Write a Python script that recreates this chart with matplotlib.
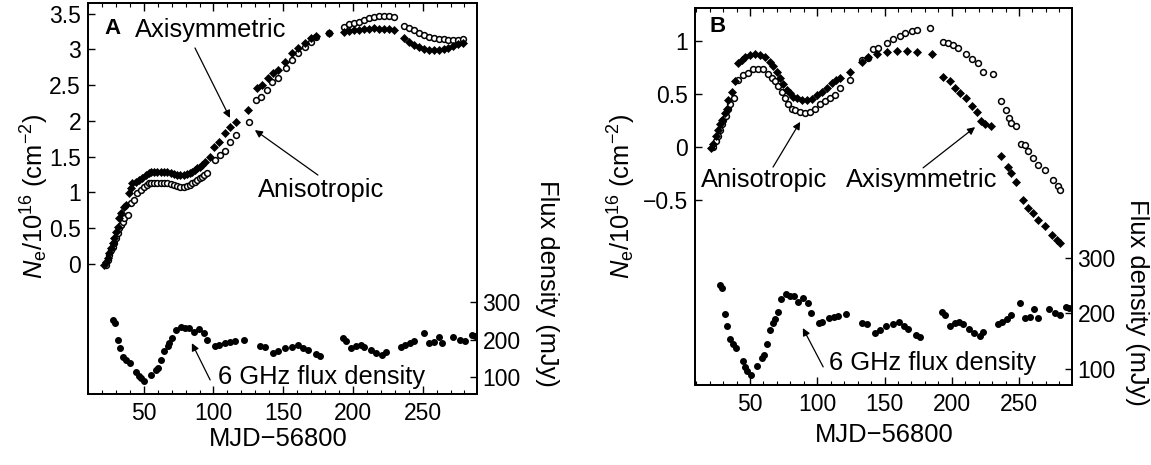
import matplotlib
matplotlib.use('Agg')
import matplotlib.pyplot as plt

plt.rcParams['font.family'] = ['Liberation Sans', 'DejaVu Sans']
plt.rcParams['mathtext.fontset'] = 'custom'
plt.rcParams['mathtext.rm'] = 'Liberation Sans'
plt.rcParams['mathtext.it'] = 'Liberation Sans:italic'
plt.rcParams['mathtext.bf'] = 'Liberation Sans:bold'

# ---------------- data: panel A ----------------
a_aniso_x = [23.0, 24.2, 25.3, 26.5, 27.7, 28.9, 30.1, 31.3, 32.5, 33.6, 34.8, 36.0, 38.4, 40.7,
             43.1, 45.5, 47.9, 50.2, 52.0, 53.8, 55.5, 57.3, 59.7, 62.1, 64.5, 66.8, 69.2,
             71.6, 74.0, 76.3, 78.7, 81.1, 82.8, 84.6, 86.4, 88.2, 90.0, 91.7, 93.5, 95.3,
             101.2, 104.8, 108.3, 112.1, 116.1, 125.2, 130.4, 134.1, 138.2, 141.7,
             146.5, 151.7, 156.0, 160.7, 165.4, 170.2, 173.7, 183.2, 193.9, 197.5, 201.0,
             204.5, 208.1, 211.6, 215.2, 218.7, 222.3, 225.8, 229.4, 236.5, 240.1, 243.7,
             247.2, 250.8, 254.3, 257.9, 261.5, 265.0, 268.5, 272.1, 275.6, 279.2]
a_aniso_y = [-0.01, 0.06, 0.13, 0.20, 0.24, 0.29, 0.36, 0.43, 0.50, 0.54, 0.59, 0.64, 0.69, 0.85,
             0.90, 0.99, 1.03, 1.08, 1.11, 1.13, 1.13, 1.13, 1.13, 1.13, 1.13, 1.13, 1.12,
             1.10, 1.09, 1.08, 1.08, 1.09, 1.11, 1.13, 1.15, 1.17, 1.20, 1.22, 1.25, 1.27,
             1.45, 1.52, 1.58, 1.71, 1.80, 1.98, 2.29, 2.34, 2.43, 2.55,
             2.60, 2.74, 2.85, 2.95, 3.04, 3.11, 3.18, 3.23, 3.32, 3.35, 3.37,
             3.39, 3.41, 3.44, 3.46, 3.47, 3.47, 3.47, 3.46, 3.33, 3.30, 3.27,
             3.23, 3.20, 3.18, 3.16, 3.15, 3.14, 3.13, 3.13, 3.13, 3.14]
a_axi_x = [21.8, 23.0, 24.2, 25.3, 26.5, 27.7, 28.9, 30.1, 31.3, 32.5, 33.6, 36.0, 37.2, 39.6,
           40.7, 41.9, 44.3, 46.7, 49.0, 51.4, 53.8, 55.5, 57.3, 59.7, 62.1, 64.5, 66.8, 69.2,
           71.6, 74.0, 76.3, 78.7, 81.1, 82.8, 84.6, 86.4, 88.2, 90.0, 91.7, 94.1, 97.6,
           100.2, 103.8, 108.5, 112.1, 116.1, 124.7, 131.1, 134.6, 139.4, 142.9, 146.5,
           151.2, 156.0, 160.7, 165.4, 170.2, 173.7, 183.2, 193.9, 197.5, 201.0, 204.5,
           208.1, 211.6, 215.2, 218.7, 222.3, 225.8, 229.4, 236.5, 240.1, 243.7, 247.2,
           250.8, 254.3, 257.9, 261.5, 265.0, 268.5, 272.1, 275.6, 279.2]
a_axi_y = [-0.01, 0.03, 0.08, 0.15, 0.22, 0.29, 0.36, 0.45, 0.52, 0.64, 0.71, 0.80, 0.83, 0.99,
           1.06, 1.13, 1.15, 1.18, 1.20, 1.24, 1.27, 1.28, 1.29, 1.29, 1.29, 1.29, 1.28, 1.27,
           1.26, 1.25, 1.24, 1.25, 1.26, 1.27, 1.29, 1.31, 1.34, 1.36, 1.38, 1.43, 1.50,
           1.64, 1.71, 1.83, 1.92, 1.99, 2.15, 2.46, 2.50, 2.60, 2.67, 2.71,
           2.83, 2.95, 3.02, 3.09, 3.16, 3.19, 3.23, 3.25, 3.26, 3.27, 3.27,
           3.28, 3.29, 3.30, 3.29, 3.28, 3.28, 3.27, 3.16, 3.11, 3.06, 3.03,
           3.00, 2.99, 2.99, 2.99, 3.00, 3.02, 3.05, 3.07, 3.09]

# ---------------- data: panel B ----------------
b_aniso_x = [22.7, 24.5, 25.9, 27.7, 28.9, 30.1, 31.9, 33.9, 35.1, 38.3, 41.3, 45.0, 48.7, 52.4,
             56.2, 59.9, 63.6, 66.1, 68.5, 71.0, 73.5, 76.0, 78.4, 80.9, 83.4, 87.1, 90.8,
             94.5, 98.2, 102.0, 105.7, 109.4, 113.1, 116.8, 124.3, 133.0, 137.9, 141.6, 145.3,
             151.5, 156.4, 161.4, 165.1, 170.1, 173.8, 183.7, 193.6, 197.3, 201.0, 204.7,
             210.9, 215.4, 219.5, 223.3, 230.3, 236.9, 240.7, 242.6, 244.4, 248.1, 251.8,
             254.3, 256.8, 260.5, 264.2, 269.3, 275.5, 279.2, 280.4]
b_aniso_y = [0.00, 0.05, 0.10, 0.16, 0.21, 0.25, 0.29, 0.36, 0.40, 0.46, 0.63, 0.68, 0.70, 0.73,
             0.73, 0.73, 0.69, 0.65, 0.62, 0.57, 0.52, 0.46, 0.40, 0.36, 0.35, 0.33, 0.32,
             0.33, 0.36, 0.40, 0.43, 0.46, 0.49, 0.55, 0.63, 0.82, 0.84, 0.92, 0.93,
             0.98, 1.02, 1.05, 1.07, 1.09, 1.10, 1.12, 0.99, 0.98, 0.96, 0.93,
             0.88, 0.83, 0.79, 0.71, 0.69, 0.43, 0.35, 0.27, 0.22, 0.20, 0.03,
             0.02, -0.04, -0.11, -0.17, -0.22, -0.31, -0.37, -0.41]
b_axi_x = [21.0, 22.7, 24.5, 26.4, 27.7, 28.9, 31.4, 32.6, 33.9, 36.3, 38.8, 41.3, 43.8, 46.2,
           50.0, 53.7, 57.4, 61.1, 64.8, 67.3, 69.8, 72.3, 74.7, 77.2, 79.7, 82.2, 84.6,
           88.3, 92.1, 95.8, 99.5, 103.2, 106.9, 110.6, 114.3, 116.8, 124.3, 133.0, 137.9,
           144.1, 151.5, 159.0, 166.4, 173.8, 185.0, 193.6, 198.5, 202.3, 206.0, 210.9,
           214.7, 218.4, 222.1, 224.5, 229.5, 236.9, 241.8, 244.4, 248.1, 253.0, 256.8,
           260.5, 264.2, 269.3, 274.3, 278.0, 280.4]
b_axi_y = [-0.01, 0.03, 0.10, 0.16, 0.21, 0.25, 0.32, 0.36, 0.44, 0.52, 0.62, 0.79, 0.82, 0.85,
           0.87, 0.88, 0.87, 0.85, 0.80, 0.76, 0.71, 0.65, 0.59, 0.54, 0.51, 0.47, 0.46,
           0.44, 0.44, 0.45, 0.49, 0.52, 0.55, 0.60, 0.63, 0.65, 0.71, 0.80, 0.85,
           0.88, 0.89, 0.90, 0.90, 0.89, 0.88, 0.66, 0.62, 0.55, 0.51, 0.46,
           0.38, 0.33, 0.24, 0.21, 0.20, -0.09, -0.19, -0.25, -0.33, -0.50, -0.58,
           -0.63, -0.69, -0.75, -0.83, -0.88, -0.91]

# ---------------- data: 6 GHz flux density (mJy) ----------------
flux_x = [27.9, 29.2, 31.5, 32.7, 35.0, 37.4, 39.8, 44.5, 46.3, 48.1, 50.5, 55.2, 58.7, 60.4,
          62.3, 64.7, 67.3, 68.3, 70.6, 72.9, 76.5, 79.7, 82.5, 86.0, 89.6, 93.2, 95.5, 101.4,
          103.8, 108.5, 112.1, 115.6, 121.6, 133.4, 136.9, 142.9, 146.5, 151.2, 156.0, 160.7,
          164.3, 167.6, 173.7, 176.1, 192.7, 195.0, 198.6, 202.2, 205.7, 208.1, 212.9, 216.4,
          221.2, 223.5, 234.2, 237.7, 241.3, 243.7, 250.8, 254.4, 257.9, 261.5, 263.8, 272.1,
          276.8, 280.4, 285.1, 287.5]
flux_y = [252, 245, 199, 177, 154, 145, 138, 114, 104, 97, 89, 105, 119, 125,
          145, 170, 182, 190, 203, 225, 234, 231, 231, 221, 227, 218, 200, 183,
          185, 191, 194, 196, 199, 183, 181, 165, 170, 177, 181, 185,
          177, 171, 161, 157, 203, 197, 177, 183, 185, 181, 172, 165,
          159, 167, 181, 185, 190, 197, 218, 191, 194, 207, 191, 207,
          200, 197, 212, 209]

x_ticks = [50, 100, 150, 200, 250]
a_left_ticks = [0, 0.5, 1, 1.5, 2, 2.5, 3, 3.5]
a_left_labels = ['0', '0.5', '1', '1.5', '2', '2.5', '3', '3.5']
b_left_ticks = [-0.5, 0, 0.5, 1]
b_left_labels = ['\u22120.5', '0', '0.5', '1']
flux_ticks = [100, 200, 300]
flux_labels = ['100', '200', '300']

TICK_FS = 16.5
LAB_FS = 18.4
ANN_FS = 18.4

fig = plt.figure(figsize=(11.51, 4.65), dpi=100)
W, H = 1151.0, 465.0


def make_axes(x0, x1, ytop, ybot):
    return fig.add_axes([x0 / W, (H - ybot) / H, (x1 - x0) / W, (ybot - ytop) / H])


def style(ax, ax2, xlim, ylim, y2lim, lticks, llabels):
    ax.set_xlim(*xlim)
    ax.set_ylim(*ylim)
    ax2.set_ylim(*y2lim)
    ax.set_xticks(x_ticks)
    ax.set_xticks(range(10, 290, 10), minor=True)
    ax.set_yticks(lticks)
    ax.set_yticklabels(llabels)
    ax2.set_yticks(flux_ticks)
    ax2.set_yticklabels(flux_labels)
    ax.tick_params(axis='x', which='both', direction='in', top=True, bottom=True,
                   labelsize=TICK_FS, pad=6)
    ax.tick_params(axis='x', which='major', length=6, width=1)
    ax.tick_params(axis='x', which='minor', length=3, width=0.8)
    ax.tick_params(axis='y', which='major', direction='in', left=True, right=False,
                   length=5, width=1, labelsize=TICK_FS, pad=5)
    ax2.tick_params(axis='y', which='major', direction='in', right=True, left=False,
                    length=5, width=1, labelsize=TICK_FS, pad=4)
    for a in (ax, ax2):
        for s in a.spines.values():
            s.set_linewidth(1.3)


def plot_panel(ax, ax2, ax_x, ax_y, an_x, an_y):
    ax.plot(an_x, an_y, 'o', ms=4.2, mfc='white', mec='black', mew=1.1, zorder=3)
    ax.plot(ax_x, ax_y, 'D', ms=3.7, mfc='black', mec='black', mew=0.5, zorder=4)
    ax2.plot(flux_x, flux_y, 'o', ms=4.0, mfc='black', mec='black', zorder=3)


def arrow(ax, tail, head):
    ax.annotate('', xy=head, xytext=tail, xycoords='axes fraction', textcoords='axes fraction',
                arrowprops=dict(arrowstyle='-|>', color='black', lw=0.9, mutation_scale=11,
                                shrinkA=0, shrinkB=0))


ylabel = r'$\mathit{N}_{\mathrm{e}}$/10$^{16}$ (cm$^{-2}$)'

# ---------------- Panel A ----------------
axA = make_axes(88, 477, 3, 394)
axA2 = axA.twinx()
plot_panel(axA, axA2, a_axi_x, a_axi_y, a_aniso_x, a_aniso_y)
style(axA, axA2, (12.3, 289), (-1.82, 3.65), (55, 1097), a_left_ticks, a_left_labels)
axA.set_xlabel('MJD\u221256800', fontsize=LAB_FS)
axA.xaxis.set_label_coords(0.488, -0.085)
axA.set_ylabel(ylabel, fontsize=LAB_FS)
axA.yaxis.set_label_coords(-0.095, 0.504)
axA2.set_ylabel('Flux density (mJy)', fontsize=LAB_FS, rotation=270, va='bottom')
axA2.yaxis.set_label_coords(1.15, 0.284)
axA.text(0.064, 0.936, 'A', transform=axA.transAxes, fontsize=16, fontweight='bold',
         ha='center', va='center')
axA.text(0.314, 0.931, 'Axisymmetric', transform=axA.transAxes, fontsize=ANN_FS,
         ha='center', va='center')
arrow(axA, (0.275, 0.885), (0.365, 0.706))
axA.text(0.599, 0.522, 'Anisotropic', transform=axA.transAxes, fontsize=ANN_FS,
         ha='center', va='center')
arrow(axA, (0.591, 0.560), (0.429, 0.675))
axA.text(0.599, 0.043, '6 GHz flux density', transform=axA.transAxes, fontsize=ANN_FS,
         ha='center', va='center')
arrow(axA, (0.314, 0.036), (0.267, 0.130))

# ---------------- Panel B ----------------
axB = make_axes(695, 1072, 8, 385)
axB2 = axB.twinx()
plot_panel(axB, axB2, b_axi_x, b_axi_y, b_aniso_x, b_aniso_y)
style(axB, axB2, (9.1, 289.4), (-2.25, 1.31), (71, 750), b_left_ticks, b_left_labels)
axB.set_xlabel('MJD\u221256800', fontsize=LAB_FS)
axB.xaxis.set_label_coords(0.501, -0.10)
axB.set_ylabel(ylabel, fontsize=LAB_FS)
axB.yaxis.set_label_coords(-0.150, 0.50)
axB2.set_ylabel('Flux density (mJy)', fontsize=LAB_FS, rotation=270, va='bottom')
axB2.yaxis.set_label_coords(1.141, 0.22)
axB.text(0.061, 0.95, 'B', transform=axB.transAxes, fontsize=16, fontweight='bold',
         ha='center', va='center')
axB.text(0.183, 0.544, 'Anisotropic', transform=axB.transAxes, fontsize=ANN_FS,
         ha='center', va='center')
arrow(axB, (0.207, 0.578), (0.279, 0.698))
axB.text(0.600, 0.544, 'Axisymmetric', transform=axB.transAxes, fontsize=ANN_FS,
         ha='center', va='center')
arrow(axB, (0.605, 0.576), (0.743, 0.684))
axB.text(0.629, 0.058, '6 GHz flux density', transform=axB.transAxes, fontsize=ANN_FS,
         ha='center', va='center')
arrow(axB, (0.340, 0.048), (0.286, 0.151))

fig.savefig('out.png', dpi=100)
